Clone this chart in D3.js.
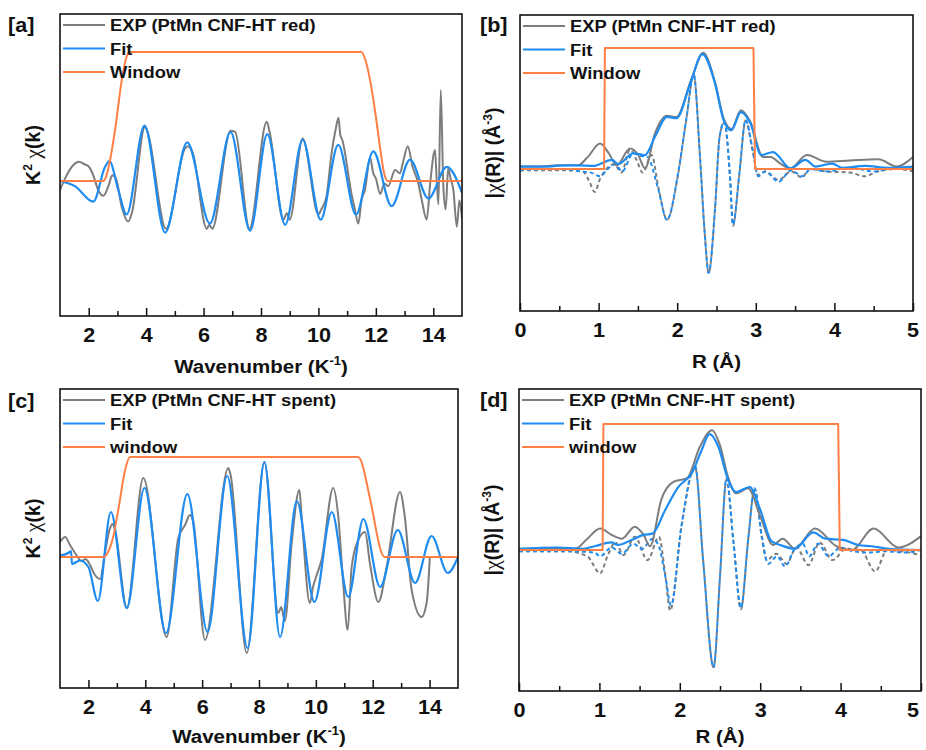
<!DOCTYPE html>
<html>
<head>
<meta charset="utf-8">
<script src="https://cdnjs.cloudflare.com/ajax/libs/d3/7.8.5/d3.min.js"></script>
<style>
  body { margin: 0; background: #fff; }
  text { font-family: 'Liberation Sans', Arial, Helvetica, sans-serif; font-weight: bold; fill: #111; }
</style>
</head>
<body>
<svg id="chart" width="926" height="750"></svg>
<script>
// ---- data (arbitrary units, window = 1) ----
var kTicks = [2, 4, 6, 8, 10, 12, 14];
var kMinor = [3, 5, 7, 9, 11, 13];
var rTicks = [0, 1, 2, 3, 4, 5];
var rMinor = [0.5, 1.5, 2.5, 3.5, 4.5];

var legendRed = ["EXP (PtMn CNF-HT red)", "Fit", "Window"];
var legendSpent = ["EXP (PtMn CNF-HT spent)", "Fit", "window"];

// [a] k-space, reduced
var expA = [[1.0,-0.07],[1.2,0.03],[1.45,0.12],[1.66,0.15],[1.85,0.13],[1.99,0.115],[2.15,0.05],[2.33,-0.07],[2.51,-0.115],
  [2.7,-0.03],[2.82,0.045],[2.95,0.02],[3.15,-0.2],[3.38,-0.315],[3.5,-0.25],[3.96,0.42],[4.05,0.38],[4.69,-0.37],
  [5.35,0.25],[5.45,0.27],[5.62,0.22],[6.11,-0.37],[6.2,-0.34],[6.3,-0.37],[6.94,0.39],[7.1,0.38],[7.6,-0.37],
  [8.2,0.46],[8.3,0.38],[8.78,-0.30],[8.9,-0.25],[9.0,-0.3],[9.45,0.33],[10.0,-0.26],[10.1,-0.22],[10.28,-0.12],
  [10.45,0.2],[10.6,0.4],[10.7,0.49],[10.76,0.36],[10.83,0.32],[11.16,-0.11],[11.25,-0.2],[11.39,-0.33],[11.5,-0.15],
  [11.62,-0.07],[11.8,0.18],[11.91,0.06],[12.0,0.02],[12.15,-0.10],[12.3,-0.02],[12.43,-0.04],[12.67,0.085],[12.84,0.06],
  [12.95,0.15],[13.11,0.27],[13.28,0.11],[13.48,-0.02],[13.6,-0.15],[13.77,-0.30],[13.9,0.0],[14.06,0.24],[14.12,0.0],
  [14.18,-0.18],[14.26,0.705],[14.35,-0.04],[14.43,-0.22],[14.52,0.10],[14.6,0.02],[14.7,-0.07],[14.82,-0.355],
  [14.91,-0.15],[15.0,-0.29]];
var fitA = [[1.0,0.0],[1.52,-0.04],[2.16,-0.16],[2.57,0.11],[2.72,0.155],[3.03,-0.07],[3.32,-0.26],[3.94,0.43],[4.66,-0.40],
  [5.43,0.30],[6.22,-0.33],[6.94,0.38],[7.62,-0.385],[8.22,0.364],[8.84,-0.34],[9.45,0.32],[10.08,-0.30],[10.69,0.28],
  [11.31,-0.26],[11.91,0.23],[12.55,-0.195],[13.19,0.165],[13.83,-0.135],[14.47,0.11],[15.0,-0.09]];
var windowA = [[1,0],[2.5,0],[2.6,0.03],[2.75,0.17],[2.92,0.4],[3.15,0.78],[3.3,0.95],[3.42,1],[11.5,1],[11.62,0.95],
  [11.8,0.78],[12.0,0.5],[12.14,0.27],[12.3,0.05],[12.4,0],[15,0]];

// [b] R-space, reduced
var expBMag = [[0,0.02],[0.2,0.02],[0.49,0.03],[0.74,0.03],[0.85,0.09],[1.02,0.21],[1.13,0.13],[1.23,0.03],[1.40,0.17],
  [1.5,0.12],[1.59,0.005],[1.72,0.30],[1.87,0.44],[1.99,0.43],[2.18,0.74],[2.33,0.96],[2.48,0.72],[2.59,0.42],[2.69,0.33],
  [2.81,0.485],[2.93,0.39],[3.09,0.1],[3.19,0.1],[3.3,0.05],[3.44,0.005],[3.65,0.115],[3.9,0.06],[4.2,0.07],[4.56,0.08],
  [4.79,0.02],[5.0,0.10]];
var fitBMag = [[0,0.02],[0.36,0.02],[0.55,0.03],[0.74,0.03],[0.93,0.025],[1.17,0.075],[1.25,0.04],[1.44,0.13],[1.59,0.115],
  [1.72,0.27],[1.87,0.43],[1.99,0.42],[2.18,0.735],[2.32,0.95],[2.48,0.71],[2.59,0.405],[2.69,0.32],[2.81,0.47],[2.93,0.38],
  [3.07,0.115],[3.22,0.14],[3.44,0.005],[3.63,0.075],[3.76,0.02],[3.97,0.045],[4.1,0.01],[4.39,0.025],[4.69,0.01],[5.0,0.02]];
var expBRe = [[0,-0.01],[0.5,-0.01],[0.8,-0.02],[0.88,-0.1],[0.95,-0.19],[1.02,-0.08],[1.1,0.0],[1.2,0.04],[1.29,-0.03],
  [1.40,0.16],[1.48,0.08],[1.56,-0.03],[1.675,0.115],[1.76,-0.15],[1.87,-0.42],[2.01,-0.05],[2.12,0.43],[2.21,0.78],
  [2.29,0.10],[2.35,-0.53],[2.40,-0.86],[2.48,-0.34],[2.54,0.27],[2.60,0.38],[2.67,-0.05],[2.71,-0.47],[2.79,-0.05],
  [2.87,0.40],[2.96,0.15],[3.03,-0.05],[3.12,-0.02],[3.29,-0.09],[3.45,-0.02],[3.59,-0.07],[3.68,0.0],[3.9,-0.02],
  [4.2,-0.03],[4.39,-0.06],[4.55,-0.02],[4.8,0.0],[5.0,-0.02]];
var fitBRe = [[0,-0.01],[0.5,0],[0.77,-0.02],[0.9,-0.03],[1.02,-0.06],[1.1,-0.01],[1.21,0.04],[1.3,-0.02],[1.44,0.13],
  [1.52,0.11],[1.62,0.1],[1.76,-0.17],[1.87,-0.42],[2.01,-0.04],[2.12,0.43],[2.21,0.78],[2.29,0.10],[2.35,-0.53],
  [2.40,-0.86],[2.48,-0.34],[2.54,0.27],[2.60,0.39],[2.67,-0.04],[2.71,-0.46],[2.79,-0.04],[2.87,0.405],[2.96,0.16],
  [3.03,-0.06],[3.12,-0.02],[3.29,-0.105],[3.45,-0.01],[3.59,-0.06],[3.7,0.0],[3.9,-0.02],[4.2,0.01],[4.5,-0.02],
  [4.8,0.01],[5.0,0.0]];
var windowB = [[0,0],[1.07,0],[1.08,1],[2.97,1],[2.99,0],[5,0]];

// [c] k-space, spent
var expC = [[1.0,0.15],[1.18,0.20],[1.35,0.12],[1.53,0.04],[1.76,-0.04],[1.9,-0.02],[2.0,-0.05],[2.23,-0.18],[2.41,-0.22],
  [2.58,0.04],[2.75,0.28],[2.85,0.33],[2.95,0.25],[3.35,-0.51],[3.93,0.79],[4.75,-0.80],[5.16,0.19],[5.40,0.32],
  [5.57,0.42],[5.69,0.35],[6.1,-0.83],[6.92,0.89],[7.0,0.82],[7.57,-0.96],[8.19,0.95],[8.68,-0.56],[8.78,-0.50],
  [8.91,-0.64],[9.15,0.14],[9.42,0.67],[9.5,0.4],[9.79,-0.46],[9.9,-0.3],[10.03,-0.18],[10.2,-0.03],[10.61,0.69],
  [10.79,0.40],[10.96,-0.26],[11.12,-0.73],[11.26,-0.1],[11.49,0.17],[11.73,0.25],[11.9,-0.06],[12.2,-0.45],
  [12.49,-0.10],[12.96,0.65],[13.13,0.40],[13.37,-0.33],[13.72,-0.60],[13.9,-0.45],[14.01,0.0]];
var fitC = [[1.0,0.013],[1.35,0.05],[1.39,0.06],[1.42,-0.07],[1.7,-0.035],[2.0,-0.10],[2.33,-0.44],[2.79,0.45],[3.35,-0.51],
  [3.97,0.69],[4.73,-0.76],[5.48,0.63],[6.19,-0.75],[6.88,0.81],[7.6,-0.91],[8.19,0.95],[8.74,-0.80],[9.33,0.56],
  [9.95,-0.45],[10.56,0.45],[11.14,-0.40],[11.67,0.38],[12.26,-0.30],[12.88,0.27],[13.49,-0.26],[14.07,0.21],
  [14.64,-0.16],[15.0,0.0]];
var windowC = [[1,0],[2.56,0],[2.65,0.03],[2.87,0.2],[3.05,0.47],[3.29,0.87],[3.46,1],[11.49,1],[11.62,0.94],
  [11.84,0.67],[12.0,0.45],[12.14,0.24],[12.3,0.05],[12.43,0],[15,0]];

// [d] R-space, spent
var expDMag = [[0,0.01],[0.4,0.01],[0.7,0.01],[0.85,0.09],[1.01,0.17],[1.15,0.12],[1.28,0.09],[1.44,0.185],[1.55,0.12],
  [1.63,0.03],[1.77,0.40],[1.92,0.54],[2.09,0.57],[2.25,0.82],[2.40,0.95],[2.5,0.83],[2.60,0.58],[2.70,0.45],[2.85,0.49],
  [3.0,0.27],[3.16,0.04],[3.28,0.09],[3.43,0.01],[3.68,0.17],[3.95,0.03],[4.14,0.0],[4.41,0.17],[4.72,0.02],[5.0,0.11]];
var fitDMag = [[0,0.01],[0.48,0.02],[0.78,0.01],[0.94,0.03],[1.15,0.06],[1.23,0.04],[1.40,0.08],[1.55,0.12],[1.66,0.13],
  [1.82,0.32],[1.98,0.50],[2.15,0.61],[2.27,0.79],[2.37,0.92],[2.48,0.82],[2.60,0.56],[2.70,0.46],[2.87,0.50],[3.0,0.32],
  [3.14,0.07],[3.25,0.04],[3.43,0.01],[3.66,0.14],[3.81,0.09],[4.03,0.08],[4.22,0.04],[4.39,0.03],[4.6,0.01],[5.0,0.0]];
var expDRe = [[0,-0.01],[0.6,-0.01],[0.85,-0.05],[1.01,-0.185],[1.1,-0.05],[1.2,0.06],[1.3,-0.04],[1.44,0.105],[1.6,-0.08],
  [1.74,0.105],[1.82,-0.2],[1.88,-0.48],[2.02,0.18],[2.19,0.66],[2.29,-0.08],[2.42,-0.93],[2.50,-0.21],[2.58,0.56],
  [2.67,0.04],[2.76,-0.47],[2.85,0.08],[2.93,0.48],[3.02,0.1],[3.08,-0.08],[3.2,-0.03],[3.33,-0.11],[3.45,0.02],
  [3.6,-0.12],[3.74,0.06],[3.9,-0.08],[4.07,0.01],[4.25,0.0],[4.43,-0.17],[4.58,0.0],[4.75,-0.01],[5.0,-0.04]];
var fitDRe = [[0,-0.01],[0.6,-0.01],[0.94,-0.02],[1.01,-0.05],[1.15,0.02],[1.28,-0.03],[1.42,0.05],[1.53,0.01],[1.66,0.09],
  [1.74,0.03],[1.82,-0.21],[1.89,-0.44],[2.02,0.19],[2.19,0.67],[2.29,-0.08],[2.42,-0.93],[2.50,-0.21],[2.58,0.57],
  [2.67,0.05],[2.76,-0.46],[2.85,0.08],[2.93,0.49],[3.02,0.11],[3.10,-0.11],[3.21,-0.05],[3.31,-0.13],[3.42,0.0],
  [3.53,0.05],[3.61,-0.05],[3.72,0.05],[3.85,-0.05],[4.0,0.02],[4.15,-0.01],[4.35,-0.02],[4.55,-0.01],[4.8,-0.02],[5.0,0.0]];
var windowD = [[0,0],[1.04,0],[1.05,1],[3.97,1],[3.99,0],[5,0]];

// ---- styles ----
var GRAY = "#7d7d7d", BLUE = "#1e8cf0", ORANGE = "#ff7f45";
var STRETCH = 1.08; // text in the picture is slightly wider than tall

var svg = d3.select("#chart");

var panels = [
  { tag: "[a]", box: [60, 14, 462, 316], xDom: [1, 15], yDom: [-1.047, 1.295], ticks: kTicks, minor: kMinor,
    xTitle: "k", legend: legendRed, labelAt: [8, 32],
    series: [
      { data: expA, color: GRAY, w: 2 },
      { data: fitA, color: BLUE, w: 2.2 },
      { data: windowA, color: ORANGE, w: 2 }
    ] },
  { tag: "[b]", box: [520, 15, 913, 311], xDom: [0, 5], yDom: [-1.174, 1.273], ticks: rTicks, minor: rMinor,
    xTitle: "R", legend: legendRed, labelAt: [480, 32],
    series: [
      { data: expBRe, color: GRAY, w: 2, dash: "4,3" },
      { data: fitBRe, color: BLUE, w: 2, dash: "4,3" },
      { data: expBMag, color: GRAY, w: 2 },
      { data: fitBMag, color: BLUE, w: 2.2 },
      { data: windowB, color: ORANGE, w: 2, linear: true }
    ] },
  { tag: "[c]", box: [60, 389, 458, 688], xDom: [1, 15], yDom: [-1.31, 1.68], ticks: kTicks, minor: kMinor,
    xTitle: "k", legend: legendSpent, labelAt: [8, 408],
    series: [
      { data: expC, color: GRAY, w: 2 },
      { data: fitC, color: BLUE, w: 2.2 },
      { data: windowC, color: ORANGE, w: 2 }
    ] },
  { tag: "[d]", box: [519, 389, 921, 691], xDom: [0, 5], yDom: [-1.119, 1.278], ticks: rTicks, minor: rMinor,
    xTitle: "R", legend: legendSpent, labelAt: [480, 407],
    series: [
      { data: expDRe, color: GRAY, w: 2, dash: "4,3" },
      { data: fitDRe, color: BLUE, w: 2, dash: "4,3" },
      { data: expDMag, color: GRAY, w: 2 },
      { data: fitDMag, color: BLUE, w: 2.2 },
      { data: windowD, color: ORANGE, w: 2, linear: true }
    ] }
];

function stretched(g, x, y, size) {
  return g.append("text")
    .attr("transform", "translate(" + x + "," + y + ") scale(" + STRETCH + ",1)")
    .style("font-size", size + "px");
}

panels.forEach(function(p, i) {
  var x0 = p.box[0], y0 = p.box[1], x1 = p.box[2], y1 = p.box[3];
  var x = d3.scaleLinear().domain(p.xDom).range([x0, x1]);
  var y = d3.scaleLinear().domain(p.yDom).range([y1, y0]);
  var g = svg.append("g");

  g.append("clipPath").attr("id", "clip" + i)
    .append("rect").attr("x", x0).attr("y", y0).attr("width", x1 - x0).attr("height", y1 - y0);

  var smooth = d3.line().x(function(d) { return x(d[0]); }).y(function(d) { return y(d[1]); })
    .curve(d3.curveMonotoneX);
  var straight = d3.line().x(function(d) { return x(d[0]); }).y(function(d) { return y(d[1]); });

  p.series.forEach(function(s) {
    g.append("path")
      .attr("clip-path", "url(#clip" + i + ")")
      .attr("d", (s.linear ? straight : smooth)(s.data))
      .attr("fill", "none")
      .attr("stroke", s.color)
      .attr("stroke-width", s.w)
      .attr("stroke-linejoin", "round")
      .attr("stroke-dasharray", s.dash || null);
  });

  // frame
  g.append("rect").attr("x", x0).attr("y", y0).attr("width", x1 - x0).attr("height", y1 - y0)
    .attr("fill", "none").attr("stroke", "#111").attr("stroke-width", 1.6);

  // inward ticks
  var major = g.append("g").attr("transform", "translate(0," + y1 + ")")
    .call(d3.axisBottom(x).tickValues(p.ticks).tickSize(-8).tickPadding(12).tickFormat(d3.format("d")));
  major.select(".domain").remove();
  major.selectAll("line").attr("stroke", "#111").attr("stroke-width", 1.5);
  major.selectAll("text")
    .style("font-size", "20px").attr("font-family", null).attr("fill", "#111")
    .attr("transform", function() {
      // keep the last label inside the page edge
      var tx = +this.parentNode.getAttribute("transform").match(/translate\(([-\d.]+)/)[1];
      var shift = Math.min(0, 920 - (tx + 7));
      return "translate(" + shift + ",0) scale(" + STRETCH + ",1)";
    });

  var minorAxis = g.append("g").attr("transform", "translate(0," + y1 + ")")
    .call(d3.axisBottom(x).tickValues(p.minor).tickSize(-5).tickFormat(""));
  minorAxis.select(".domain").remove();
  minorAxis.selectAll("line").attr("stroke", "#111").attr("stroke-width", 1.5);

  // x title
  var xt = stretched(g, (x0 + x1) / 2, Math.min(y1 + 57, 743), 19).attr("text-anchor", "middle");
  if (p.xTitle === "k") {
    xt.append("tspan").text("Wavenumber (K");
    xt.append("tspan").text("-1").style("font-size", "12px").attr("dy", -8);
    xt.append("tspan").text(")").attr("dy", 8);
  } else {
    xt.text("R (\u00C5)");
  }

  // y title
  var yt = g.append("text")
    .attr("transform", "translate(" + (x0 - 20) + "," + ((y0 + y1) / 2 - 10) + ") rotate(-90)")
    .attr("text-anchor", "middle")
    .style("font-size", "19.5px");
  if (p.xTitle === "k") {
    yt.append("tspan").text("K");
    yt.append("tspan").text("2").style("font-size", "12px").attr("dy", -8);
    yt.append("tspan").text(" \u03C7").attr("dy", 8)
      .style("font-family", "'Liberation Serif', 'Times New Roman', serif").style("font-weight", "normal").style("font-size", "22px");
    yt.append("tspan").text("(k)");
  } else {
    yt.append("tspan").text("|");
    yt.append("tspan").text("\u03C7")
      .style("font-family", "'Liberation Serif', 'Times New Roman', serif").style("font-weight", "normal").style("font-size", "22px");
    yt.append("tspan").text("(R)| (\u00C5");
    yt.append("tspan").text("-3").style("font-size", "12px").attr("dy", -8);
    yt.append("tspan").text(")").attr("dy", 8);
  }

  // panel tag
  stretched(g, p.labelAt[0], p.labelAt[1], 20).text(p.tag);

  // legend
  var legendColors = [GRAY, BLUE, ORANGE];
  p.legend.forEach(function(label, j) {
    var ly = y0 + 11 + j * 23.5;
    g.append("line").attr("x1", x0 + 3).attr("x2", x0 + 45).attr("y1", ly).attr("y2", ly)
      .attr("stroke", legendColors[j]).attr("stroke-width", 2);
    stretched(g, x0 + 50, ly + 6, 17).text(label);
  });
});
</script>
</body>
</html>
